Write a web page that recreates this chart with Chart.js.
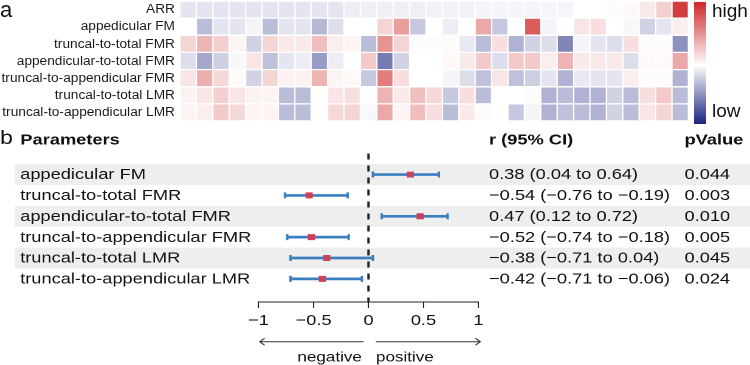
<!DOCTYPE html>
<html><head><meta charset="utf-8">
<script src="https://cdn.jsdelivr.net/npm/chart.js@4.4.1/dist/chart.umd.min.js"></script>
<style>
html,body{margin:0;padding:0;background:#fff;width:750px;height:365px;overflow:hidden;}
#heatWrap{position:absolute;left:0;top:0;width:750px;height:128px;}
#forestWrap{position:absolute;left:0;top:125px;width:617px;height:240px;transform:scaleX(1.21556);transform-origin:0 0;}
</style></head><body>
<div id="heatWrap"><canvas id="heat"></canvas></div>
<div id="forestWrap"><canvas id="forest"></canvas></div>
<script>
// ---------- heatmap (panel a) ----------
const heatRows = ["ARR", "appedicular FM", "truncal-to-total FMR", "appendicular-to-total FMR",
  "truncal-to-appendicular FMR", "truncal-to-total LMR", "truncal-to-appendicular LMR"];
const zARR   = [-0.12,-0.12,-0.12,-0.12,-0.12,-0.12,-0.12,-0.12,-0.12,-0.12,-0.08,-0.07,-0.07,-0.07,-0.07,-0.06,-0.06,-0.06,-0.05,-0.05,-0.05,-0.05,-0.04,-0.04,0,0,0.02,0.03,0.1,0.22,0.9];
const zAppFM = [0,-0.3,-0.12,-0.12,-0.05,-0.3,-0.12,-0.12,-0.32,-0.15,0,0,0.2,0.45,-0.25,0,-0.08,0,0.4,-0.25,0,0.75,-0.05,0,0.12,0.15,0,-0.03,-0.2,-0.12,0.08];
const zTTFMR = [0.2,0.35,0.22,0.05,-0.2,0.2,0.1,0.1,0.3,0.08,0.05,-0.3,0.5,0.2,0.02,0.02,0.02,-0.1,-0.3,0.15,-0.35,-0.2,-0.15,-0.55,-0.05,-0.12,-0.15,0.15,0.02,0.02,-0.5];
const zATFMR = [-0.15,-0.4,-0.22,-0.03,0.12,-0.28,-0.12,-0.08,-0.45,-0.08,0,0.25,-0.6,-0.2,0,0,0.03,0.1,0.25,-0.15,0.25,0.25,0.08,0.35,0.1,0.1,0.1,-0.15,0.03,0.03,0.4];
const zTAFMR = [0.12,0.38,0.18,0.02,-0.2,0.2,0.06,0.06,0.35,0.05,0.03,-0.25,0.6,0.15,0,0,-0.05,-0.15,-0.28,0.12,-0.28,-0.22,-0.12,-0.35,-0.1,-0.12,-0.12,0.08,0.02,0.02,-0.35];
const zTTLMR = [0.06,0.12,0.22,0.12,0.06,0.05,-0.3,-0.3,0,0.12,0.15,0,0.35,0.1,0.3,0.18,-0.25,0.15,-0.3,0,0,0.02,-0.35,-0.3,-0.35,-0.35,-0.2,-0.3,0.15,0.25,-0.3];
const zTALMR = [0.05,0.08,0.25,0.18,0.05,0.05,-0.3,-0.3,0,0.18,0.2,-0.03,0.4,0.05,0.3,0.15,-0.3,0.1,0.02,0,-0.25,-0.05,-0.35,-0.28,-0.3,-0.35,-0.2,-0.3,0.12,0.2,-0.3];
const heatMatrix = [zARR, zAppFM, zTTFMR, zATFMR, zTAFMR, zTTLMR, zTALMR];
const colorbarLabels = ["high", "low"];

// ---------- forest plot (panel b) ----------
const params  = ["appedicular FM", "truncal-to-total FMR", "appendicular-to-total FMR",
  "truncal-to-appendicular FMR", "truncal-to-total LMR", "truncal-to-appendicular LMR"];
const rVals   = [0.38, -0.54, 0.47, -0.52, -0.38, -0.42];
const ciLow   = [0.04, -0.76, 0.12, -0.74, -0.71, -0.71];
const ciHigh  = [0.64, -0.19, 0.72, -0.18, 0.04, -0.06];
const pValues = [0.044, 0.003, 0.010, 0.005, 0.045, 0.024];
const xTicks  = [-1, -0.5, 0, 0.5, 1];
const headers = ["Parameters", "r (95% CI)", "pValue"];
const directionLabels = ["negative", "positive"];

const FONT = '"Liberation Sans", Arial, Helvetica, sans-serif';
Chart.defaults.font.family = FONT;
const HI = [205, 38, 38], LO = [26, 35, 126];
const BLUE = '#3b7fc1', RED = '#cf4058', BAND = '#eeeeee';
const rgb = c => `rgb(${c.map(Math.round).join(',')})`;
function heatColor(v) {
  const c = v >= 0 ? HI : LO, t = Math.min(1, Math.abs(v));
  return rgb([0,1,2].map(k => 255 + (c[k] - 255) * t));
}
const minus = s => s.replace('-', '\u2212');
const fmt2 = v => minus(v.toFixed(2));

const nCols = zARR.length;

const heatDeco = {
  id: 'heatDeco',
  afterDraw(chart) {
    const ctx = chart.ctx;
    ctx.save();
    ctx.fillStyle = '#111';
    ctx.textAlign = 'left';
    ctx.textBaseline = 'alphabetic';
    ctx.font = '22px ' + FONT;
    ctx.fillText('a', 0, 17);
    const x0 = 694, y0 = 2, w = 12, h = 122;
    const g = ctx.createLinearGradient(0, y0, 0, y0 + h);
    g.addColorStop(0, rgb(HI));
    g.addColorStop(0.52, '#ffffff');
    g.addColorStop(1, rgb(LO));
    ctx.fillStyle = g;
    ctx.fillRect(x0, y0, w, h);
    ctx.fillStyle = '#111';
    ctx.font = '19px ' + FONT;
    ctx.textBaseline = 'middle';
    ctx.fillText(colorbarLabels[0], 712, 12);
    ctx.fillText(colorbarLabels[1], 712, 112);
    ctx.restore();
  }
};

new Chart(document.getElementById('heat'), {
  type: 'bar',
  data: {
    labels: heatRows,
    datasets: Array.from({length: nCols}, (_, j) => ({
      data: heatRows.map(() => 1),
      backgroundColor: heatMatrix.map(row => heatColor(row[j])),
      borderColor: '#ffffff', borderWidth: 1, borderSkipped: false,
      categoryPercentage: 1, barPercentage: 1
    }))
  },
  options: {
    indexAxis: 'y', responsive: true, maintainAspectRatio: false, animation: false,
    layout: {padding: {left: 0, right: 61.6, top: 1, bottom: 7}},
    plugins: {legend: {display: false}, tooltip: {enabled: false}},
    scales: {
      x: {stacked: true, min: 0, max: nCols, display: false},
      y: {stacked: true, grid: {display: false, drawTicks: false}, border: {display: false},
          ticks: {font: {size: 13.7, family: FONT}, color: '#1a1a1a', padding: 5, autoSkip: false},
          afterFit(s) { s.width = 180; s.paddingTop = 0; s.paddingBottom = 0; }}
    }
  },
  plugins: [heatDeco]
});

const forestDeco = {
  id: 'forestDeco',
  beforeDatasetsDraw(chart) {
    const {ctx, chartArea} = chart;
    const x = chart.scales.x, y = chart.scales.y;
    ctx.save();
    ctx.fillStyle = BAND;
    params.forEach((p, i) => {
      if (i % 2 === 0) {
        const t = y.getPixelForValue(i + 0.5), b = y.getPixelForValue(i + 1.5);
        ctx.fillRect(12.3, t, chart.width - 12.3, b - t);
      }
    });
    const x0 = x.getPixelForValue(0);
    ctx.strokeStyle = '#222'; ctx.lineWidth = 2; ctx.setLineDash([6, 6]);
    ctx.beginPath(); ctx.moveTo(x0, chartArea.top); ctx.lineTo(x0, chartArea.bottom); ctx.stroke();
    ctx.restore();
  },
  afterDraw(chart) {
    const ctx = chart.ctx;
    const x = chart.scales.x, y = chart.scales.y;
    ctx.save();
    ctx.fillStyle = '#111';
    ctx.textAlign = 'left';
    ctx.textBaseline = 'alphabetic';
    ctx.font = '19px ' + FONT;
    ctx.fillText('b', 0, 19);
    ctx.font = 'bold 15px ' + FONT;
    ctx.fillText(headers[0], 16.8, 19.3);
    ctx.fillText(headers[1], 402.3, 19.3);
    ctx.fillText(headers[2], 563.1, 19.3);
    ctx.font = '15px ' + FONT;
    ctx.textBaseline = 'middle';
    params.forEach((p, i) => {
      const yy = y.getPixelForValue(i + 1) + 0.5;
      ctx.fillText(p, 16.6, yy);
      ctx.fillText(`${fmt2(rVals[i])} (${fmt2(ciLow[i])} to ${fmt2(ciHigh[i])})`, 402.3, yy);
      ctx.fillText(pValues[i].toFixed(3), 563.1, yy);
    });
    // direction arrows
    const x0 = x.getPixelForValue(0), xl = x.getPixelForValue(-1), xr = x.getPixelForValue(1);
    const ay = 216.7;
    ctx.strokeStyle = '#333'; ctx.lineWidth = 1;
    ctx.beginPath();
    ctx.moveTo(x0 - 4, ay); ctx.lineTo(xl + 1, ay);
    ctx.moveTo(xl + 5, ay - 3.5); ctx.lineTo(xl + 1, ay); ctx.lineTo(xl + 5, ay + 3.5);
    ctx.moveTo(x0 + 6, ay); ctx.lineTo(xr + 1.5, ay);
    ctx.moveTo(xr - 2.5, ay - 3.5); ctx.lineTo(xr + 1.5, ay); ctx.lineTo(xr - 2.5, ay + 3.5);
    ctx.stroke();
    ctx.font = '14px ' + FONT;
    ctx.textBaseline = 'alphabetic';
    ctx.textAlign = 'right';
    ctx.fillText(directionLabels[0], 297.6, 236.5);
    ctx.textAlign = 'left';
    ctx.fillText(directionLabels[1], 309.3, 236.5);
    ctx.restore();
  }
};

const capPoints = [];
params.forEach((p, i) => { capPoints.push({x: ciLow[i], y: i + 1}); capPoints.push({x: ciHigh[i], y: i + 1}); });

new Chart(document.getElementById('forest'), {
  type: 'scatter',
  data: {
    datasets: [
      {type: 'bar', indexAxis: 'y', data: params.map((p, i) => ({x: [ciLow[i], ciHigh[i]], y: i + 1})),
       backgroundColor: BLUE, borderWidth: 0, barThickness: 2, order: 3},
      {type: 'scatter', data: capPoints, pointStyle: 'line', pointRotation: 90, pointRadius: 3,
       pointBorderColor: BLUE, pointBorderWidth: 2, pointHoverRadius: 3, order: 2},
      {type: 'scatter', data: rVals.map((r, i) => ({x: r, y: i + 1})), pointStyle: 'rect', pointRadius: 4.2,
       pointBackgroundColor: RED, pointBorderColor: RED, pointBorderWidth: 0, pointHoverRadius: 4.2, order: 1}
    ]
  },
  options: {
    responsive: true, maintainAspectRatio: false, animation: false, devicePixelRatio: 2,
    layout: {padding: {left: 212.7, right: 223.4, top: 28.5, bottom: 0}},
    plugins: {legend: {display: false}, tooltip: {enabled: false}},
    scales: {
      x: {type: 'linear', min: -1, max: 1, position: 'bottom',
          afterBuildTicks(s) { s.ticks = xTicks.map(v => ({value: v})); },
          ticks: {callback: v => minus(String(v)), font: {size: 15, family: FONT}, color: '#111',
                  padding: 4, maxRotation: 0, autoSkip: false},
          grid: {drawOnChartArea: false, drawTicks: true, tickLength: 6, color: '#222', lineWidth: 1},
          border: {display: true, color: '#222', width: 1},
          afterFit(s) { s.height = 63; }},
      y: {type: 'linear', min: 0.5, max: 6.6, reverse: true, display: false}
    }
  },
  plugins: [forestDeco]
});
</script>
</body></html>
